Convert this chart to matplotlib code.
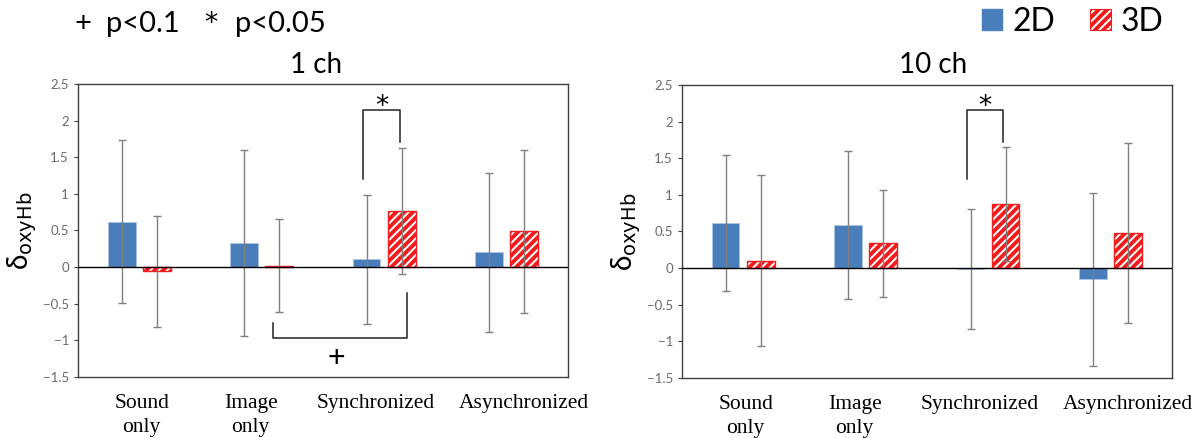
import numpy as np
import matplotlib.pyplot as plt
from matplotlib.patches import Patch

plt.rcParams['font.family'] = ['Lato', 'DejaVu Sans']
plt.rcParams['hatch.linewidth'] = 2.8

categories = ['Sound\nonly', 'Image\nonly', 'Synchronized', 'Asynchronized']
label_shift = [0.02, -0.09, -0.07, 0.14]
panel_titles = ['1 ch', '10 ch']

# mean values and error (half length) per panel
mean_2d_1ch = [0.62, 0.33, 0.11, 0.20]
err_2d_1ch = [1.11, 1.27, 0.88, 1.08]
mean_3d_1ch = [-0.06, 0.02, 0.77, 0.49]
err_3d_1ch = [0.76, 0.63, 0.86, 1.11]

mean_2d_10ch = [0.62, 0.59, -0.01, -0.15]
err_2d_10ch = [0.93, 1.01, 0.82, 1.18]
mean_3d_10ch = [0.10, 0.34, 0.88, 0.48]
err_3d_10ch = [1.17, 0.73, 0.78, 1.23]

blue = '#4a7ebb'
red = '#f21c1c'
err_color = '#808080'

fig = plt.figure(figsize=(12, 4.38), dpi=100)
ax1 = fig.add_axes([0.065, 0.1393, 0.4083, 0.669])
ax2 = fig.add_axes([0.5683, 0.137, 0.4083, 0.669])

x = np.arange(len(categories))
w = 0.225
off = 0.143


def draw_panel(ax, m2, e2, m3, e3):
    ax.bar(x - off, m2, w, color=blue, edgecolor='#a9c4e6', linewidth=0.6, zorder=2)
    ax.bar(x + off, m3, w, color='white', edgecolor=red, hatch='////', linewidth=1.0, zorder=2)
    ax.errorbar(x - off, m2, yerr=e2, fmt='none', ecolor=err_color, elinewidth=1.0,
                capsize=2.8, capthick=1.0, zorder=3)
    ax.errorbar(x + off, m3, yerr=e3, fmt='none', ecolor=err_color, elinewidth=1.0,
                capsize=2.8, capthick=1.0, zorder=3)
    ax.axhline(0, color='black', linewidth=1.0, zorder=4)
    ax.set_xlim(-0.5, 3.5)
    ax.set_ylim(-1.5, 2.5)
    ax.set_yticks([-1.5, -1, -0.5, 0, 0.5, 1, 1.5, 2, 2.5])
    ax.set_yticklabels(['\u22121.5', '\u22121', '\u22120.5', '0', '0.5', '1', '1.5', '2', '2.5'])
    ax.tick_params(axis='y', labelsize=9.5, labelcolor='#6a6a6a', length=3, color='#404040')
    ax.set_xticks(x + np.array(label_shift))
    ax.set_xticklabels(categories, fontfamily='Liberation Serif', fontsize=15.5, linespacing=1.4)
    ax.tick_params(axis='x', length=0, pad=12)
    for s in ax.spines.values():
        s.set_color('#404040')
        s.set_linewidth(1.0)
    ax.set_ylabel('δ' + r'$_{\mathrm{oxyHb}}$', fontsize=20, labelpad=3)


def bracket_top(ax, x1, x2, ytop, y1, y2):
    ax.plot([x1, x1, x2, x2], [y1, ytop, ytop, y2], color='#222222', linewidth=1.1, zorder=5)
    ax.text((x1 + x2) / 2, ytop - 0.05, '*', ha='center', va='baseline', fontsize=19,
            family='DejaVu Sans', zorder=5)


draw_panel(ax1, mean_2d_1ch, err_2d_1ch, mean_3d_1ch, err_3d_1ch)
draw_panel(ax2, mean_2d_10ch, err_2d_10ch, mean_3d_10ch, err_3d_10ch)

# significance marks
bracket_top(ax1, 1.83, 2.13, 2.14, 1.20, 1.71)
bracket_top(ax2, 1.83, 2.12, 2.16, 1.22, 1.72)
ax1.plot([1.09, 1.09, 2.19, 2.19], [-0.76, -0.97, -0.97, -0.355], color='#222222',
         linewidth=1.1, zorder=5)
ax1.text(1.61, -1.24, '+', ha='center', va='center', fontsize=22, zorder=5)

fig.text(316 / 1200, 0.852, panel_titles[0], ha='center', va='center', fontsize=20)
fig.text(933 / 1200, 0.852, panel_titles[1], ha='center', va='center', fontsize=20)

# "+ p<0.1  * p<0.05" note
fig.text(75 / 1200, 0.945, '+', ha='left', va='center', fontsize=21)
fig.text(106 / 1200, 0.945, 'p<0.1', ha='left', va='center', fontsize=21)
fig.text(204 / 1200, 0.945, '*', ha='left', va='center', fontsize=19, family='DejaVu Sans')
fig.text(235 / 1200, 0.945, 'p<0.05', ha='left', va='center', fontsize=21)

handles = [Patch(facecolor=blue, edgecolor=blue),
           Patch(facecolor='white', edgecolor=red, hatch='////', linewidth=0.8)]
fig.legend(handles, ['2D', '3D'], loc='upper right', bbox_to_anchor=(1163 / 1200, 0.985), ncol=2,
           frameon=False, fontsize=23, handlelength=0.65, handleheight=0.65,
           handletextpad=0.3, columnspacing=1.1, borderaxespad=0, borderpad=0)

fig.savefig('out.png', dpi=100)
